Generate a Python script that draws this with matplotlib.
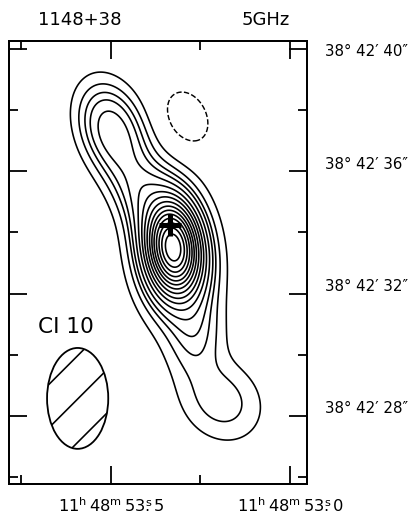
import numpy as np
import matplotlib
matplotlib.use("Agg")
import matplotlib.pyplot as plt
from matplotlib.patches import Ellipse
import matplotlib.transforms as mtransforms

# --- data -------------------------------------------------------------
# map components: east offset from 11h48m53.0s (arcsec), Dec seconds (38d42'+),
# peak, sigma along major axis, sigma along minor axis (arcsec), PA (deg, N->E)
comp_x = [3.82, 3.81, 3.79, 5.82, 4.70, 3.10, 2.25, 3.37]
comp_y = [33.51, 33.42, 33.30, 37.38, 35.15, 30.62, 28.49, 37.74]
comp_amp = [72.0, 22.0, 6.0, 6.4, 5.0, 2.5, 2.6, -2.0]
comp_smaj = [0.64, 1.00, 1.50, 1.00, 1.20, 0.90, 1.00, 0.76]
comp_smin = [0.36, 0.56, 0.85, 0.65, 0.60, 0.60, 0.85, 0.55]
comp_pa = [7, 7, 7, 20, 30, 0, 45, 25]

pos_levels = [1, 2, 3, 4, 5.5, 7.5, 10, 13, 17, 22, 28, 35, 44, 55, 68, 84]
neg_levels = [-1]

cross_x = [3.92]
cross_y = [34.23]

beam_x, beam_y = 6.94, 28.57
beam_w, beam_h = 2.0, 3.3

ra_major = [53.5, 53.0]
ra_minor = [53.75, 53.25]
ra_labels = [r"$\mathregular{11^h\,48^m\,53\overset{s}{.}5}$",
             r"$\mathregular{11^h\,48^m\,53\overset{s}{.}0}$"]
dec_major = [28, 32, 36, 40]
dec_minor = [26, 30, 34, 38]
dec_labels = ["38\u00b0 42\u2032 28\u2033", "38\u00b0 42\u2032 32\u2033",
              "38\u00b0 42\u2032 36\u2033", "38\u00b0 42\u2032 40\u2033"]

# arcsec per second of RA at this declination
ras_scale = 15.0 * np.cos(np.radians(38.71))

# --- field ------------------------------------------------------------
gx = np.linspace(-0.8, 9.5, 420)
gy = np.linspace(25.5, 40.5, 600)
X, Y = np.meshgrid(gx, gy)
Z = np.zeros_like(X)
for cx, cy, a, sj, sn, pa in zip(comp_x, comp_y, comp_amp, comp_smaj, comp_smin, comp_pa):
    t = np.radians(pa)
    dx = X - cx
    dy = Y - cy
    u = dx * np.sin(t) + dy * np.cos(t)
    v = dx * np.cos(t) - dy * np.sin(t)
    Z += a * np.exp(-0.5 * ((u / sj) ** 2 + (v / sn) ** 2))

# --- plot -------------------------------------------------------------
plt.rcParams["hatch.linewidth"] = 0.9
fig = plt.figure(figsize=(414 / 130, 521 / 130), dpi=130)
ax = fig.add_axes([8.5 / 414, 1 - 484 / 521, 298.5 / 414, 443 / 521])

ax.contour(X, Y, Z, levels=pos_levels, colors="k", linewidths=0.9)
ax.contour(X, Y, Z, levels=neg_levels, colors="k", linewidths=0.8, linestyles="--")

ax.plot(cross_x, cross_y, marker="+", color="k", markersize=12, mew=2.8, ls="none")

beam = Ellipse((beam_x, beam_y), beam_w, beam_h, facecolor="none",
               edgecolor="k", lw=1.0, hatch="/")
ax.add_patch(beam)

ax.text(0.10, 0.355, "CI 10", transform=ax.transAxes, fontsize=12,
        ha="left", va="center")

ax.set_xlim(9.2, -0.556)
ax.set_ylim(25.77, 40.26)

xt_major = [(r - 53.0) * ras_scale for r in ra_major]
xt_minor = [(r - 53.0) * ras_scale for r in ra_minor]
ax.set_xticks(xt_major)
ax.set_xticks(xt_minor, minor=True)
ax.set_xticklabels([])
ax.set_yticks(dec_major)
ax.set_yticks(dec_minor, minor=True)
ax.set_yticklabels([])
ax.tick_params(which="both", direction="in", top=True, right=True,
               bottom=True, left=True, width=1.0)
ax.tick_params(which="major", length=10)
ax.tick_params(which="minor", length=5)
for s in ax.spines.values():
    s.set_linewidth(1.1)

# coordinate labels (the top one sits just below its tick)
for d, lab in zip(dec_major, dec_labels):
    dy = -3 if d == max(dec_major) else 7
    off = mtransforms.offset_copy(ax.get_yaxis_transform(), fig=fig, x=0, y=dy, units="dots")
    ax.text(1.06, d, lab, transform=off, fontsize=8.3, ha="left", va="center")
for xv, lab in zip(xt_major, ra_labels):
    ax.text(xv, -0.05, lab, transform=ax.get_xaxis_transform(), fontsize=9,
            ha="center", va="center")

fig.text(80 / 414, 1 - 20 / 521, "1148+38", fontsize=10, ha="center", va="center")
fig.text(266 / 414, 1 - 20 / 521, "5GHz", fontsize=10, ha="center", va="center")

fig.savefig("out.png", dpi=130)
